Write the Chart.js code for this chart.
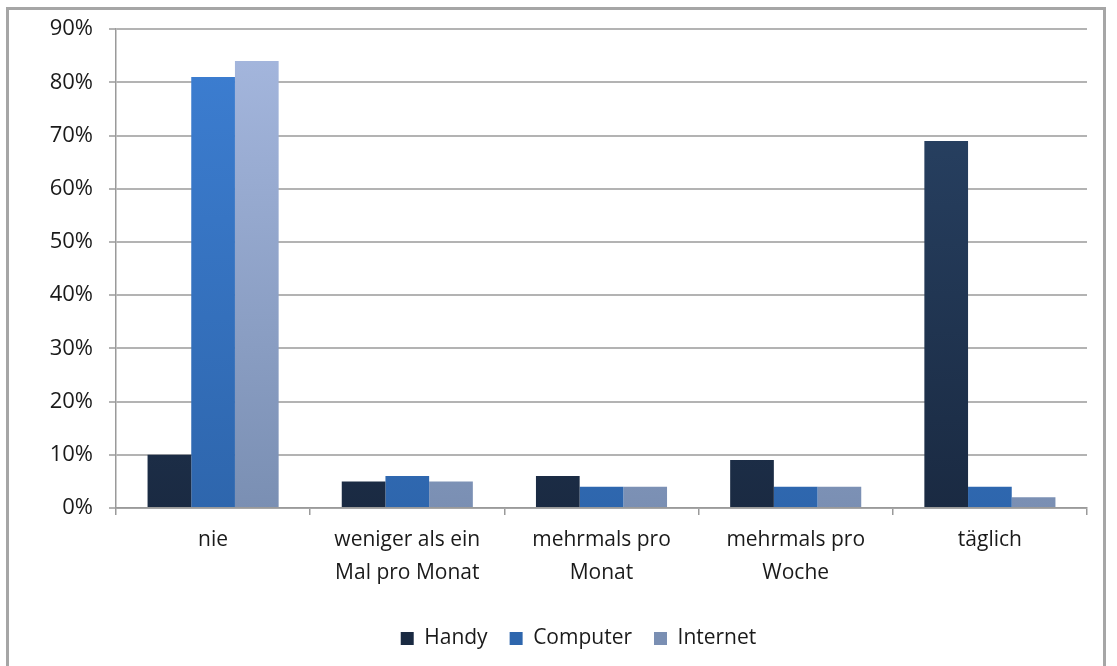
<!DOCTYPE html>
<html>
<head>
<meta charset="utf-8">
<script src="https://cdn.jsdelivr.net/npm/chart.js@4"></script>
<style>
  html, body { margin: 0; padding: 0; background: #fff; overflow: hidden; }
  #frame {
    position: absolute; left: 6px; top: 7px; width: 1100px; height: 680px;
    border: 3px solid #a6a6a6; box-sizing: border-box;
  }
  #wrap { position: absolute; left: 0; top: 0; width: 1117px; height: 659px; }
</style>
</head>
<body>
<div id="frame"></div>
<div id="wrap"><canvas id="usage"></canvas></div>
<script>
// categories and series (percent)
const categories = ['nie', ['weniger als ein', 'Mal pro Monat'], ['mehrmals pro', 'Monat'], ['mehrmals pro', 'Woche'], 'täglich'];
const handy = [10, 5, 6, 9, 69];
const computer = [81, 6, 4, 4, 4];
const internet = [84, 5, 4, 4, 2];
const yTicks = [0, 10, 20, 30, 40, 50, 60, 70, 80, 90];

const FONT = '"Open Sans", "Noto Sans", sans-serif';

// vertical gradient per series, Excel-for-Mac look
function grad(top, bottom) {
  return function(context) {
    const chart = context.chart;
    const area = chart.chartArea;
    if (!area) return bottom;
    const g = chart.ctx.createLinearGradient(0, area.top, 0, area.bottom);
    g.addColorStop(0, top);
    g.addColorStop(1, bottom);
    return g;
  };
}

// the legend in the original sits a bit right of centre
const legendShift = {
  id: 'legendShift',
  afterLayout(chart) {
    chart.legend.left += 35;
    chart.legend.right += 35;
  }
};

const ctx = document.getElementById('usage').getContext('2d');

const chart = new Chart(ctx, {
  type: 'bar',
  data: {
    labels: categories,
    datasets: [
      { label: 'Handy', data: handy, backgroundColor: grad('#2a4568', '#1a2a42') },
      { label: 'Computer', data: computer, backgroundColor: grad('#3d7fd3', '#2e66ad') },
      { label: 'Internet', data: internet, backgroundColor: grad('#a6b8df', '#7a8fb3') }
    ]
  },
  plugins: [legendShift],
  options: {
    responsive: true,
    maintainAspectRatio: false,
    animation: false,
    datasets: {
      bar: { barPercentage: 1, categoryPercentage: 0.675, borderWidth: 0 }
    },
    layout: { padding: { top: 26, right: 30, bottom: 0, left: 0 } },
    plugins: {
      tooltip: { enabled: false },
      legend: {
        position: 'bottom',
        labels: {
          boxWidth: 13,
          boxHeight: 13,
          padding: 22,
          color: '#1a1a1a',
          font: { family: FONT, size: 21 }
        }
      }
    },
    scales: {
      x: {
        grid: {
          offset: true,
          drawOnChartArea: false,
          drawTicks: true,
          tickLength: 7,
          color: '#9a9a9a',
          lineWidth: 1.5
        },
        border: { color: '#9a9a9a', width: 1.5 },
        ticks: {
          color: '#1a1a1a',
          padding: 9,
          maxRotation: 0,
          autoSkip: false,
          font: { family: FONT, size: 21, lineHeight: 1.55 }
        },
        afterFit: s => { s.height = 98; }
      },
      y: {
        min: 0,
        max: 90,
        afterBuildTicks: s => { s.ticks = yTicks.map(v => ({ value: v })); },
        grid: {
          color: '#b3b3b3',
          lineWidth: 2,
          tickLength: 7
        },
        border: { color: '#9a9a9a', width: 1.5 },
        ticks: {
          color: '#1a1a1a',
          padding: 16,
          font: { family: FONT, size: 22 },
          callback: v => v + '%'
        },
        afterFit: s => { s.width = 116; }
      }
    }
  }
});
</script>
</body>
</html>
